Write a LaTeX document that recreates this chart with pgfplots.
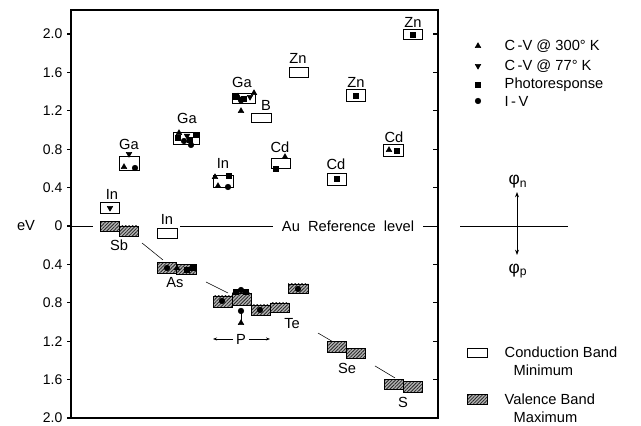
\documentclass[border=0pt]{standalone}
\usepackage{fontspec}
\setmainfont{Liberation Sans}
\usepackage{pgfplots}
\pgfplotsset{compat=1.18}
\usetikzlibrary{patterns.meta,arrows.meta}
\newcommand{\cb}[4]{\addplot[draw=black, line width=0.7pt, fill=white] coordinates {(#1,#3) (#2,#3) (#2,#4) (#1,#4)} -- cycle;}
\newcommand{\vb}[4]{\addplot[draw=black, line width=0.7pt, fill=black!30, postaction={pattern={Lines[angle=45,distance=1.8pt,line width=0.6pt]}, pattern color=black!85}] coordinates {(#1,#3) (#2,#3) (#2,#4) (#1,#4)} -- cycle;}
\begin{document}
\begin{tikzpicture}[font=\fontsize{11}{13}\selectfont]
\begin{axis}[
  scale only axis, width=275.25pt, height=306pt,
  xmin=71, xmax=438, ymin=-2.0, ymax=2.25,
  xtick=\empty,
  ytick={-2,-1.6,-1.2,-0.8,-0.4,0,0.4,0.8,1.2,1.6,2},
  yticklabels={2.0,1.6,1.2,0.8,0.4,0,0.4,0.8,1.2,1.6,2.0},
  ytick pos=left, tick align=outside, major tick length=3pt,
  yticklabel style={font=\fontsize{10.5}{12}\selectfont},
  axis line style={line width=0.9pt},
  tick style={line width=0.8pt, black},
  clip=false,
]
\pgfplotsinvokeforeach{-2,-1.6,-1.2,-0.8,-0.4,0.4,0.8,1.2,1.6,2}{\draw[line width=0.8pt] (axis cs:438,#1) -- (axis cs:433,#1);}
% reference line
\addplot[thin, black] coordinates {(71,0) (93,0)};
\addplot[thin, black] coordinates {(180,0) (273,0)};
\addplot[thin, black] coordinates {(423,0) (438,0)};
\node at (axis cs:348,0) {Au\ \ Reference\ \ level};
\node at (axis cs:26,0) {eV};
% guide lines
\addplot[thin, black] coordinates {(142,-0.177) (163,-0.354)};
\addplot[thin, black] coordinates {(206,-0.583) (228,-0.698)};
\addplot[thin, black] coordinates {(318,-1.115) (335,-1.219)};
\addplot[thin, black] coordinates {(375,-1.458) (395,-1.583)};
% conduction band minima
\cb{100}{119}{0.240}{0.135}
\cb{119}{139}{0.719}{0.583}
\cb{173}{199}{0.969}{0.854}
\cb{213}{233}{0.531}{0.396}
\cb{232}{255}{1.385}{1.281}
\cb{251}{271}{1.177}{1.083}
\cb{271}{290}{0.708}{0.594}
\cb{289}{308}{1.646}{1.542}
\cb{346}{365}{1.417}{1.302}
\cb{327}{346}{0.552}{0.427}
\cb{383}{403}{0.844}{0.729}
\cb{403}{422}{2.052}{1.938}
\cb{157}{177}{-0.021}{-0.125}
% valence band maxima
\vb{100}{119}{0.042}{-0.052}
\vb{119}{138}{0.000}{-0.104}
\vb{157}{176}{-0.385}{-0.490}
\vb{176}{196}{-0.406}{-0.510}
\vb{213}{232}{-0.729}{-0.844}
\vb{232}{251}{-0.698}{-0.833}
\vb{251}{270}{-0.823}{-0.927}
\vb{270}{289}{-0.802}{-0.906}
\vb{288}{308}{-0.604}{-0.708}
\vb{327}{346}{-1.208}{-1.313}
\vb{346}{365}{-1.271}{-1.375}
\vb{384}{403}{-1.594}{-1.698}
\vb{403}{422}{-1.615}{-1.729}
% P arrow from triangle
\addplot[black, line width=0.7pt] coordinates {(241,-1.0) (241,-0.87)};
% markers: C-V 300K
\addplot[only marks, mark=triangle*, mark size=2.4pt, black] coordinates {
 (124,0.615) (179,0.969) (215,0.51) (218,0.417) (254,1.385) (238,1.35)
 (241,1.198) (285,0.719) (389,0.792) (241,-1.010) (177,-0.44) (478,1.875)};
% C-V 77K
\addplot[only marks, mark=triangle*, mark size=2.4pt, mark options={rotate=180}, black] coordinates {
 (110,0.188) (129,0.75) (250,1.344) (187,0.94) (478,1.667)};
% Photoresponse
\addplot[only marks, mark=square*, mark size=1.9pt, black] coordinates {
 (178,0.917) (190,0.896) (196,0.948) (229,0.521) (236,1.344) (244,1.33)
 (276,0.594) (355.5,1.359) (336.5,0.490) (397,0.781) (412.5,1.995)
 (187,-0.458) (193,-0.44) (236,-0.69) (246,-0.69) (478,1.469)};
% I-V
\addplot[only marks, mark=*, mark size=2.1pt, black] coordinates {
 (135,0.604) (184,0.885) (191,0.844) (228,0.406) (241,1.31) (167,-0.4375)
 (222,-0.781) (241,-0.667) (260,-0.875) (298,-0.656) (241,-0.885) (478,1.302)};
% element labels
\node at (axis cs:112,0.333) {In};
\node at (axis cs:129,0.854) {Ga};
\node at (axis cs:187,1.115) {Ga};
\node at (axis cs:223,0.656) {In};
\node at (axis cs:242,1.49) {Ga};
\node at (axis cs:266,1.26) {B};
\node at (axis cs:280,0.823) {Cd};
\node at (axis cs:298,1.740) {Zn};
\node at (axis cs:356,1.5) {Zn};
\node at (axis cs:336,0.646) {Cd};
\node at (axis cs:394,0.927) {Cd};
\node at (axis cs:413,2.125) {Zn};
\node at (axis cs:167,0.073) {In};
\node at (axis cs:119,-0.198) {Sb};
\node at (axis cs:175,-0.594) {As};
\node at (axis cs:292,-1.021) {Te};
\node at (axis cs:241,-1.177) {P};
\draw[-{Stealth[length=3pt]}, thin] (axis cs:233,-1.177) -- (axis cs:213,-1.177);
\draw[-{Stealth[length=3pt]}, thin] (axis cs:249,-1.177) -- (axis cs:270,-1.177);
\node at (axis cs:347,-1.479) {Se};
\node at (axis cs:403,-1.833) {S};
% legend
\node[anchor=west] at (axis cs:500,1.875) {C\,-V @ 300° K};
\node[anchor=west] at (axis cs:500,1.667) {C\,-V @ 77° K};
\node[anchor=west] at (axis cs:500,1.469) {Photoresponse};
\node[anchor=west] at (axis cs:500,1.302) {I\,-\,V};
% phi cross
\addplot[thin, black] coordinates {(460,0) (568,0)};
\draw[-{Stealth[length=4pt]}, line width=0.6pt] (axis cs:517,0) -- (axis cs:517,0.354);
\draw[-{Stealth[length=4pt]}, line width=0.6pt] (axis cs:517,0) -- (axis cs:517,-0.302);
\node[font=\fontsize{13}{15}\selectfont] at (axis cs:518,0.46) {φ\textsubscript{n}};
\node[font=\fontsize{13}{15}\selectfont] at (axis cs:518,-0.47) {φ\textsubscript{p}};
% band legend
\cb{467}{487}{-1.271}{-1.365}
\vb{467}{487}{-1.760}{-1.854}
\node[anchor=west] at (axis cs:500,-1.3125) {Conduction Band};
\node[anchor=west] at (axis cs:509,-1.50) {Minimum};
\node[anchor=west] at (axis cs:500,-1.802) {Valence Band};
\node[anchor=west] at (axis cs:509,-1.990) {Maximum};
\coordinate (bbA) at (axis cs:0,2.354);
\coordinate (bbB) at (axis cs:641,-2.083);
\end{axis}
\pgfresetboundingbox
\path[use as bounding box] (bbA) rectangle (bbB);
\end{tikzpicture}
\end{document}
